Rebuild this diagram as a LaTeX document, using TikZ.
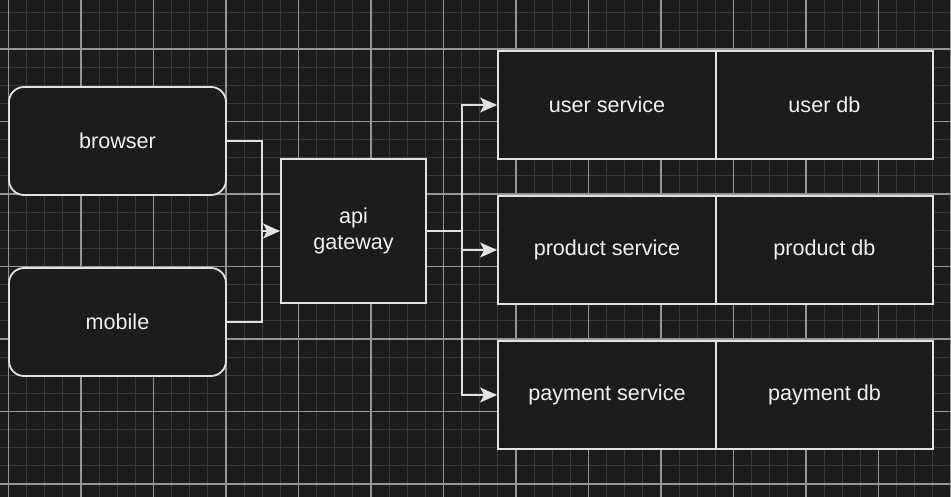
\documentclass[tikz,border=0pt]{standalone}
\usepackage{fontspec}
\setmainfont{Liberation Sans}
\usepackage{tikz}
\usetikzlibrary{arrows.meta, positioning}
\definecolor{canvasbg}{RGB}{28,28,30}
\definecolor{gridminor}{RGB}{58,58,60}
\definecolor{gridmajor}{RGB}{150,150,150}
\definecolor{edgegrey}{RGB}{225,225,225}

\begin{document}
\begin{tikzpicture}[x=1pt, y=-1pt, >={Stealth[length=17pt, width=15pt, inset=4pt]},
        block/.style={draw=edgegrey, fill=canvasbg, line width=1.8pt, text=white!94!black,
            font=\fontsize{21.6}{26}\selectfont, align=center, inner sep=0pt},
        client/.style={block, rounded corners=15pt, minimum width=217pt, minimum height=108pt},
        service/.style={block, minimum width=218pt, minimum height=108pt},
        wire/.style={draw=edgegrey, line width=1.8pt}]
    % canvas and grid
    \fill[canvasbg] (0,0) rectangle (951,497);
    \useasboundingbox (0,0) rectangle (951,497);
    \foreach \i in {0,...,52} {
        \draw[gridminor, line width=1pt] ({8.5+18.125*\i},0) -- ({8.5+18.125*\i},497);
    }
    \foreach \i in {-2,...,25} {
        \draw[gridminor, line width=1pt] (0,{49+18.125*\i}) -- (951,{49+18.125*\i});
    }
    \foreach \i in {0,...,13} {
        \draw[gridmajor, line width=1.2pt] ({8.5+72.5*\i},0) -- ({8.5+72.5*\i},497);
    }
    \foreach \i in {-1,...,6} {
        \draw[gridmajor, line width=1.2pt] (0,{49+72.5*\i}) -- (951,{49+72.5*\i});
    }

    % clients
    \node[client] (browser) at (117.5,141) {browser};
    \node[client] (mobile) at (117.5,322) {mobile};
    \node[block, minimum width=145pt, minimum height=144pt] (gateway) at (353.5,231) {api\\gateway};

    % services and stores
    \node[service] (usersvc) at (607,105) {user service};
    \node[service, minimum width=217pt] (userdb) at (824.5,105) {user db};
    \node[service] (productsvc) at (607,250) {product service};
    \node[service, minimum width=217pt] (productdb) at (824.5,250) {product db};
    \node[service] (paymentsvc) at (607,395) {payment service};
    \node[service, minimum width=217pt] (paymentdb) at (824.5,395) {payment db};

    % joints
    \coordinate (joinL) at (262,231);
    \coordinate (joinR) at (462,231);

    \draw[wire] (browser.east) -| (joinL);
    \draw[wire] (mobile.east) -| (joinL);
    \draw[wire, ->] (joinL) -- (gateway.west);
    \draw[wire] (gateway.east) -- (joinR);
    \draw[wire, ->] (joinR) |- (usersvc.west);
    \draw[wire, ->] (joinR) |- (productsvc.west);
    \draw[wire, ->] (joinR) |- (paymentsvc.west);
\end{tikzpicture}
\end{document}
